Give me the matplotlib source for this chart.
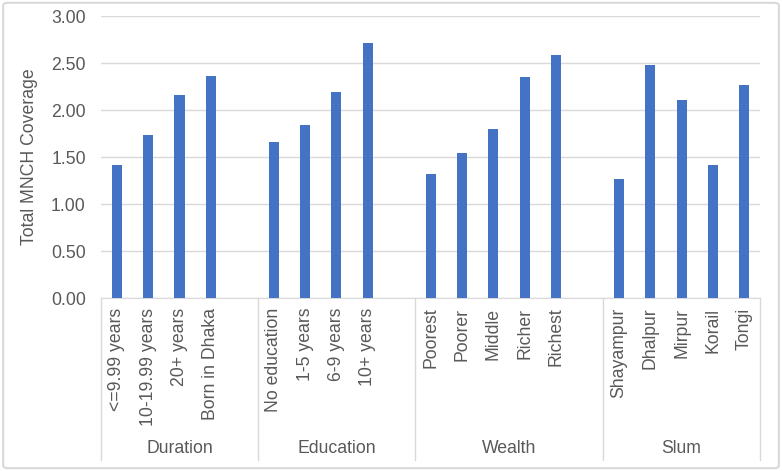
'''
Bar chart of total MNCH coverage by duration, education, wealth and slum.
'''

# Imports:
import matplotlib
matplotlib.use('Agg')
import matplotlib.pyplot as plt
import matplotlib.transforms as mtransforms
from matplotlib.patches import FancyBboxPatch

# Data:
GROUPS = ['Duration', 'Education', 'Wealth', 'Slum']

DURATION_LABELS = ['<=9.99 years', '10-19.99 years', '20+ years', 'Born in Dhaka']
DURATION_VALUES = [1.41, 1.73, 2.16, 2.36]

EDUCATION_LABELS = ['No education', '1-5 years', '6-9 years', '10+ years']
EDUCATION_VALUES = [1.66, 1.84, 2.19, 2.71]

WEALTH_LABELS = ['Poorest', 'Poorer', 'Middle', 'Richer', 'Richest']
WEALTH_VALUES = [1.32, 1.54, 1.80, 2.35, 2.59]

SLUM_LABELS = ['Shayampur', 'Dhalpur', 'Mirpur', 'Korail', 'Tongi']
SLUM_VALUES = [1.27, 2.48, 2.11, 1.42, 2.27]

# Every group except the last one keeps one empty slot after its bars
EMPTY_SLOTS = [1, 1, 1, 0]

Y_TICKS = [0.0, 0.5, 1.0, 1.5, 2.0, 2.5, 3.0]

# Styles:
BAR_COLOR = '#4472C4'
GRID_COLOR = '#D9D9D9'
TEXT_COLOR = '#595959'
FONT = 'Liberation Sans'
FONT_SIZE = 12.7
BAR_WIDTH = 0.32
SEP_DEPTH = 0.574
GROUP_LABEL_Y = -0.535

plt.rcParams['font.family'] = [FONT, 'DejaVu Sans']

fig = plt.figure(figsize=(7.82, 4.71), dpi=100)
ax = fig.add_axes([0.1292, 0.3673, 0.8427, 0.5987])

# Figure border
fig.patches.append(FancyBboxPatch((0.004, 0.006), 0.992, 0.988,
                                  boxstyle='round,pad=0,rounding_size=0.006',
                                  transform=fig.transFigure, facecolor='none',
                                  edgecolor=GRID_COLOR, linewidth=1.5))

group_data = [(DURATION_LABELS, DURATION_VALUES),
              (EDUCATION_LABELS, EDUCATION_VALUES),
              (WEALTH_LABELS, WEALTH_VALUES),
              (SLUM_LABELS, SLUM_VALUES)]

positions = []
labels = []
values = []
boundaries = [0]
centers = []
slot = 0
for (names, vals), empty in zip(group_data, EMPTY_SLOTS):
    start = slot
    for name, val in zip(names, vals):
        positions.append(slot + 0.5)
        labels.append(name)
        values.append(val)
        slot += 1
    slot += empty
    boundaries.append(slot)
    centers.append((start + slot) / 2)

ax.bar(positions, values, width=BAR_WIDTH, color=BAR_COLOR, zorder=3)

# Axes
ax.set_xlim(0, slot)
ax.set_ylim(0, 3)
ax.set_yticks(Y_TICKS)
ax.set_yticklabels([f'{t:.2f}' for t in Y_TICKS])
ax.set_xticks(positions)
ax.set_xticklabels(labels, rotation=90, va='top', ha='center')
ax.tick_params(axis='both', length=0, labelsize=FONT_SIZE, colors=TEXT_COLOR)
ax.tick_params(axis='x', pad=7)
ax.tick_params(axis='y', pad=11)
ax.yaxis.grid(True, color=GRID_COLOR, linewidth=1.0, zorder=0)
for side in ['top', 'right', 'left']:
    ax.spines[side].set_visible(False)
ax.spines['bottom'].set_color(GRID_COLOR)
ax.set_ylabel('Total MNCH Coverage', fontsize=FONT_SIZE, color=TEXT_COLOR, labelpad=9)

# Group separators and labels
trans = mtransforms.blended_transform_factory(ax.transData, ax.transAxes)
for b in boundaries:
    ax.plot([b, b], [0, -SEP_DEPTH], transform=trans, color=GRID_COLOR,
            linewidth=1.0, clip_on=False)
for name, c in zip(GROUPS, centers):
    ax.text(c, GROUP_LABEL_Y, name, transform=trans, ha='center', va='center',
            fontsize=FONT_SIZE, color=TEXT_COLOR)

fig.savefig('out.png', dpi=100)
